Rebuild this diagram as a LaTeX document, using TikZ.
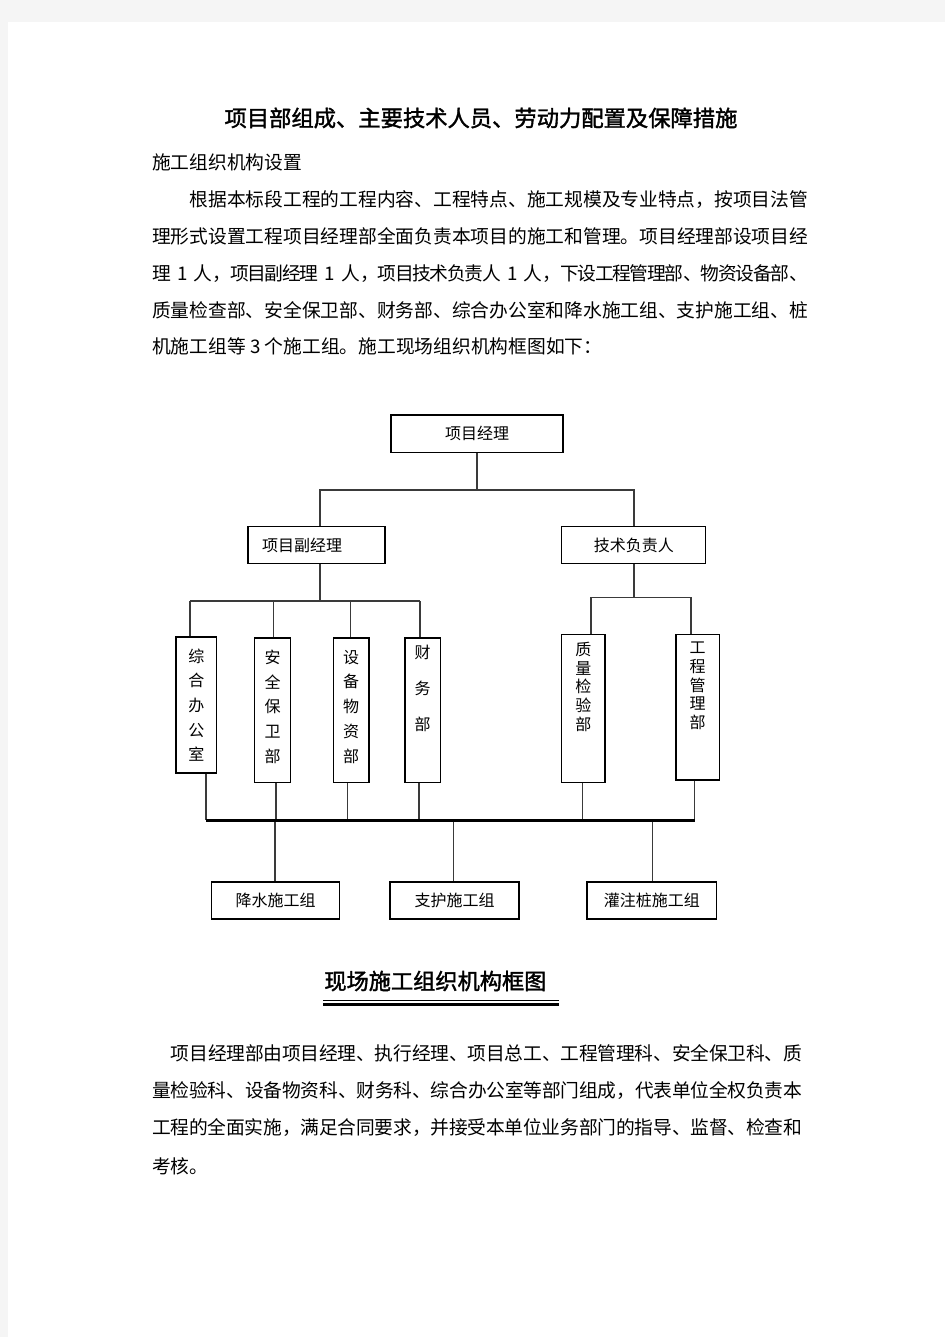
\documentclass[tikz,border=0pt]{standalone}
\usepackage{fontspec}
\setmainfont{Noto Sans CJK SC}
\newfontfamily\cjkbold[FakeBold=1.6]{Noto Sans CJK SC}
\usetikzlibrary{positioning}
\XeTeXlinebreaklocale "zh"
\XeTeXlinebreakskip=0pt plus 2pt minus 1.5pt
\definecolor{palPage}{HTML}{F5F5F5}
\definecolor{palLine}{HTML}{3A3A3A}
% one justified line of the running text
\newcommand{\fullline}[1]{\noindent\parfillskip=0pt\relax#1\par}
% vertical label: box height, line pitch, top gap, text
\newcommand{\colstack}[4]{\parbox[c][#1pt][t]{24pt}{\centering
  \fontsize{16}{#2pt}\selectfont\vspace*{#3pt}#4}}
\tikzset{
  orgbox/.style={draw=black, line width=1.3pt, inner sep=0pt,
                 minimum height=37pt, font=\fontsize{16}{19}\selectfont},
  deptbox/.style={draw=black, line width=1.3pt, inner sep=0pt},
  conn/.style={draw=palLine, line width=1.4pt},
  busline/.style={draw=black, line width=3pt},
  bodytext/.style={anchor=west, inner sep=0pt,
                   font=\fontsize{18.75}{22}\selectfont},
  bodyline/.style={bodytext, text width=656pt},
  headtext/.style={inner sep=0pt, font=\cjkbold\fontsize{22.3}{26}\selectfont},
}

\begin{document}
\begin{tikzpicture}[x=1pt, y=-1pt]
% Level y-positions
\def\yTop{433.7}   \def\yJoin{490}   \def\yMid{545}
\def\yDept{601}    \def\yDeptR{597.3}
\def\yBus{820}     \def\yGrp{900.5}

%% Page
\fill[palPage] (0,0) rectangle (945,1337);
\fill[white] (8,22) rectangle (945,1337);
\useasboundingbox (0,0) rectangle (945,1337);

%% Text above the chart
\node[headtext] (title) at (481,118) {项目部组成、主要技术人员、劳动力配置及保障措施};
\node[bodytext] (sect) at (152,162) {施工组织机构设置};
\node[bodyline] (pa1) at (152,200)
  {\fullline{\hspace*{2em}根据本标段工程的工程内容、工程特点、施工规模及专业特点，按项目法管}};
\node[bodyline] (pa2) at (152,236.6)
  {\fullline{理形式设置工程项目经理部全面负责本项目的施工和管理。项目经理部设项目经}};
\node[bodyline] (pa3) at (152,273.3)
  {\fullline{理 1 人，项目副经理 1 人，项目技术负责人 1 人，下设工程管理部、物资设备部、}};
\node[bodyline] (pa4) at (152,310)
  {\fullline{质量检查部、安全保卫部、财务部、综合办公室和降水施工组、支护施工组、桩}};
\node[bodytext] (pa5) at (152,346.7) {机施工组等 3 个施工组。施工现场组织机构框图如下：};

%% Managers
\node[orgbox, minimum width=172pt, minimum height=37.5pt] (pm) at (477,\yTop) {项目经理};
\node[orgbox, minimum width=137pt, text width=109pt, align=left] (dpm) at (316.5,\yMid) {项目副经理};
\node[orgbox, minimum width=144pt] (tech) at (633.8,\yMid) {技术负责人};

%% Departments
\node[deptbox, minimum width=40.5pt] (zh) at (196.3,705)
  {\colstack{136}{24.6}{11.7}{综\\合\\办\\公\\室}};
\node[deptbox, minimum width=36pt] (aq) at (272.7,710.3)
  {\colstack{144.7}{24.75}{12}{安\\全\\保\\卫\\部}};
\node[deptbox, minimum width=35.8pt] (sb) at (351.1,710.3)
  {\colstack{144.7}{24.75}{12}{设\\备\\物\\资\\部}};
\node[deptbox, minimum width=35.4pt] (cw) at (422.7,710.3)
  {\colstack{144.7}{36}{7}{财\\务\\部}};
\node[deptbox, minimum width=43.2pt] (zl) at (583.4,708.5)
  {\colstack{148.4}{18.75}{7.7}{质\\量\\检\\验\\部}};
\node[deptbox, minimum width=43.3pt] (gc) at (697.7,707.2)
  {\colstack{145.7}{18.7}{7.7}{工\\程\\管\\理\\部}};

%% Work groups
\node[orgbox, minimum width=128.5pt] (js) at (275.5,\yGrp) {降水施工组};
\node[orgbox, minimum width=129pt] (zhh) at (454.6,\yGrp) {支护施工组};
\node[orgbox, minimum width=129.5pt] (gzz) at (651.8,\yGrp) {灌注桩施工组};

%% Connectors -- top level
\coordinate (jL) at (320,\yJoin);
\coordinate (jR) at (634,\yJoin);
\draw[conn] (pm.south) -- (pm.south |- jL);
\draw[conn] (jL |- dpm.north) -- (jL) -- (jR) -- (jR |- tech.north);

%% Connectors -- departments
\coordinate (dA) at (190,\yDept);   \coordinate (dB) at (273.5,\yDept);
\coordinate (dC) at (350.5,\yDept); \coordinate (dD) at (420,\yDept);
\coordinate (dE) at (591,\yDeptR);  \coordinate (dF) at (691,\yDeptR);
\draw[conn] (jL |- dpm.south) -- (jL |- dA);
\draw[conn] (dA) -- (dD);
\draw[conn] (tech.south) -- (tech.south |- dE);
\draw[conn] (dE) -- (dF);
\foreach \c/\b in {dA/zh, dB/aq, dC/sb, dD/cw, dE/zl, dF/gc}
  \draw[conn] (\c) -- (\c |- \b.north);

%% Connectors -- bus to work groups
\coordinate (bA) at (206,\yBus);   \coordinate (bB) at (276,\yBus);
\coordinate (bC) at (347.5,\yBus); \coordinate (bD) at (419,\yBus);
\coordinate (bE) at (582.5,\yBus); \coordinate (bF) at (694.5,\yBus);
\foreach \c/\b in {bA/zh, bB/aq, bC/sb, bD/cw, bE/zl, bF/gc}
  \draw[conn] (\c |- \b.south) -- (\c);
\coordinate (gA) at (275,\yBus);
\coordinate (gB) at (453.5,\yBus);
\coordinate (gC) at (652.5,\yBus);
\foreach \c/\b in {gA/js, gB/zhh, gC/gzz}
  \draw[conn] (\c) -- (\c |- \b.north);
\draw[busline] (bA) -- (bF);

%% Caption
\node[headtext, font=\cjkbold\fontsize{22.2}{26}\selectfont] (cap) at (435.4,981) {现场施工组织机构框图};
\draw[black, line width=1pt] (323.3,1000) -- (559.2,1000);
\draw[black, line width=3pt] (323.3,1004) -- (559.2,1004);

%% Text below the chart
\node[bodyline, text width=650pt] (pb1) at (152,1053)
  {\fullline{\hspace*{1em}项目经理部由项目经理、执行经理、项目总工、工程管理科、安全保卫科、质}};
\node[bodyline, text width=650pt] (pb2) at (152,1090.5)
  {\fullline{量检验科、设备物资科、财务科、综合办公室等部门组成，代表单位全权负责本}};
\node[bodyline, text width=650pt] (pb3) at (152,1128)
  {\fullline{工程的全面实施，满足合同要求，并接受本单位业务部门的指导、监督、检查和}};
\node[bodytext] (pb4) at (152,1166) {考核。};
\end{tikzpicture}
\end{document}
